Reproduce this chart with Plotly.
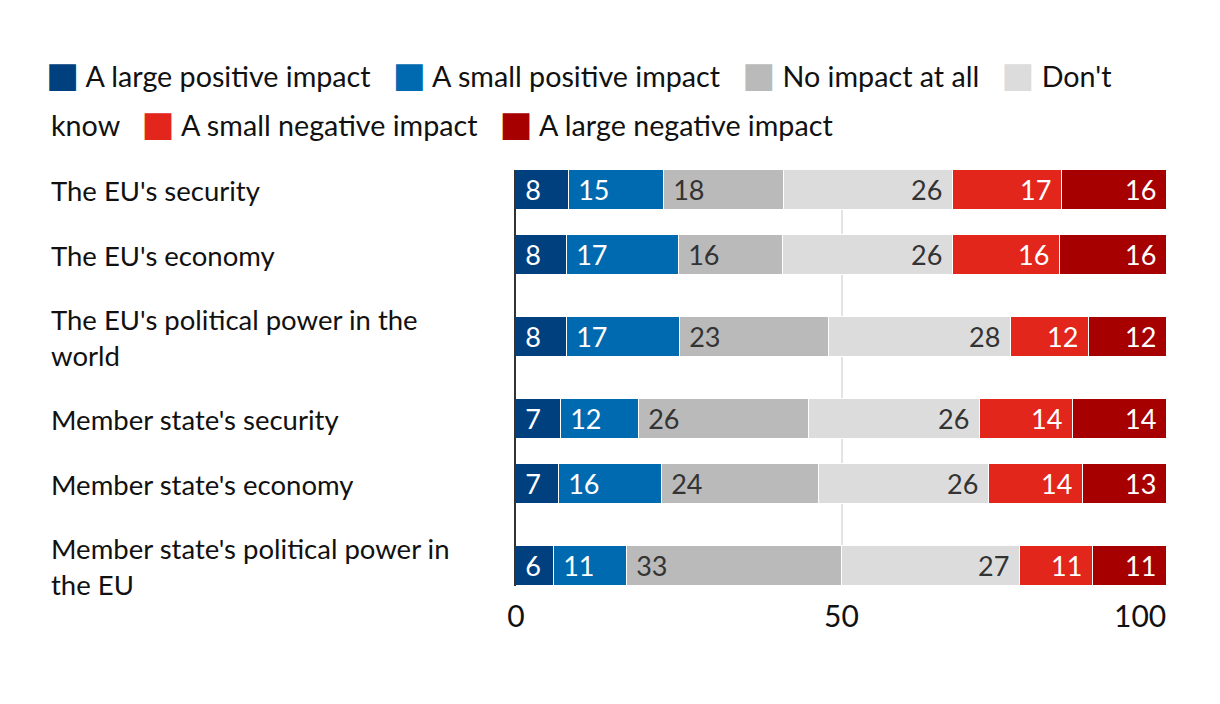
import plotly.graph_objects as go

categories = [
    "The EU's security",
    "The EU's economy",
    "The EU's political power in the<br>world",
    "Member state's security",
    "Member state's economy",
    "Member state's political power in<br>the EU",
]
series_names = [
    "A large positive impact",
    "A small positive impact",
    "No impact at all",
    "Don't know",
    "A small negative impact",
    "A large negative impact",
]
# shares (%); labels show them rounded
large_pos = [8.1, 7.8, 7.8, 6.9, 6.6, 5.8]
small_pos = [14.7, 17.2, 17.4, 12.0, 15.9, 11.2]
no_impact = [18.4, 16.0, 22.9, 26.1, 24.1, 33.0]
dont_know = [26.0, 26.2, 27.9, 26.2, 26.1, 27.4]
small_neg = [16.7, 16.4, 12.0, 14.4, 14.4, 11.3]
large_neg = [16.1, 16.4, 12.0, 14.4, 12.9, 11.3]
x_ticks = [0, 50, 100]
x_ticktext = ["0", "50", "100"]

series_values = [large_pos, small_pos, no_impact, dont_know, small_neg, large_neg]
colors = ["#00407f", "#006ab0", "#bababa", "#dcdcdc", "#e3261c", "#a70000"]
text_colors = ["white", "white", "#333333", "#333333", "white", "white"]
anchors = ["start", "start", "start", "end", "end", "end"]

FONT = "Lato"
NB = "\u00a0"

# band layout derived from number of label lines
single, extra = 65, 34
pos = []
cur = 0.0
prev_half = None
for c in categories:
    h = single + extra * (c.count("<br>"))
    if prev_half is not None:
        cur += prev_half + h / 2
    pos.append(cur)
    prev_half = h / 2

bar_w = 40
fig = go.Figure()
for name, vals, col, tc, anc in zip(series_names, series_values, colors, text_colors, anchors):
    tmpl = "&nbsp;%{x:.0f}" if anc == "start" else "%{x:.0f}&nbsp;"
    fig.add_trace(go.Bar(
        y=pos, x=vals, orientation="h", name=name,
        marker=dict(color=col, line=dict(color="white", width=1.5)),
        width=bar_w,
        texttemplate=tmpl, textposition="inside", insidetextanchor=anc,
        textfont=dict(color=tc, size=27, family=FONT),
        showlegend=False, hovertemplate="%{x:.0f}<extra>" + name + "</extra>",
    ))

# category labels, left aligned
for c, p in zip(categories, pos):
    fig.add_annotation(
        text=c, x=-0.7174, xref="paper", y=p, yref="y",
        xanchor="left", yanchor="middle", align="left", showarrow=False,
        font=dict(size=27.5, family=FONT, color="#111111"),
    )

# legend as flowing text with coloured square swatches (wraps inside "Don't know")
def swatch(col):
    return ('<span style="font-family:DejaVu Sans;font-size:35px;color:%s">\u25a0</span>' % col) + NB

gap = NB * 3
first, second = series_names[3].split(" ", 1)
row1 = gap.join(swatch(c) + n for c, n in zip(colors[:3], series_names[:3])) + gap + swatch(colors[3]) + first
row2 = second + gap + gap.join(swatch(c) + n for c, n in zip(colors[4:], series_names[4:]))
for txt, xx, yy in [(row1, -0.7244, 1.2284), (row2, -0.7174, 1.1106)]:
    fig.add_annotation(
        text=txt, x=xx, xref="paper", y=yy, yref="paper",
        xanchor="left", yanchor="middle", align="left", showarrow=False,
        font=dict(size=28.7, family=FONT, color="#111111"),
    )

fig.update_layout(
    width=1220, height=704,
    barmode="stack", bargap=0,
    plot_bgcolor="white", paper_bgcolor="white",
    margin=dict(l=508, r=61, t=162, b=126, autoexpand=False),
    font=dict(family=FONT, size=26, color="#111111"),
    showlegend=False,
)
fig.update_xaxes(
    range=[0, 100], tickvals=x_ticks, automargin=False,
    ticktext=[t if t != "100" else t + NB * 7 for t in x_ticktext],
    showgrid=True, gridcolor="#e3e3e3", gridwidth=2,
    zeroline=False, showline=False, ticks="", ticklabelstandoff=10,
    tickfont=dict(size=30, family=FONT, color="#111111"),
)
fig.update_yaxes(
    range=[pos[-1] + bar_w / 2, -bar_w / 2], showticklabels=False, showgrid=False,
    zeroline=False, showline=True, linecolor="#333333", linewidth=2, automargin=False,
)

fig.write_html("out.html")
